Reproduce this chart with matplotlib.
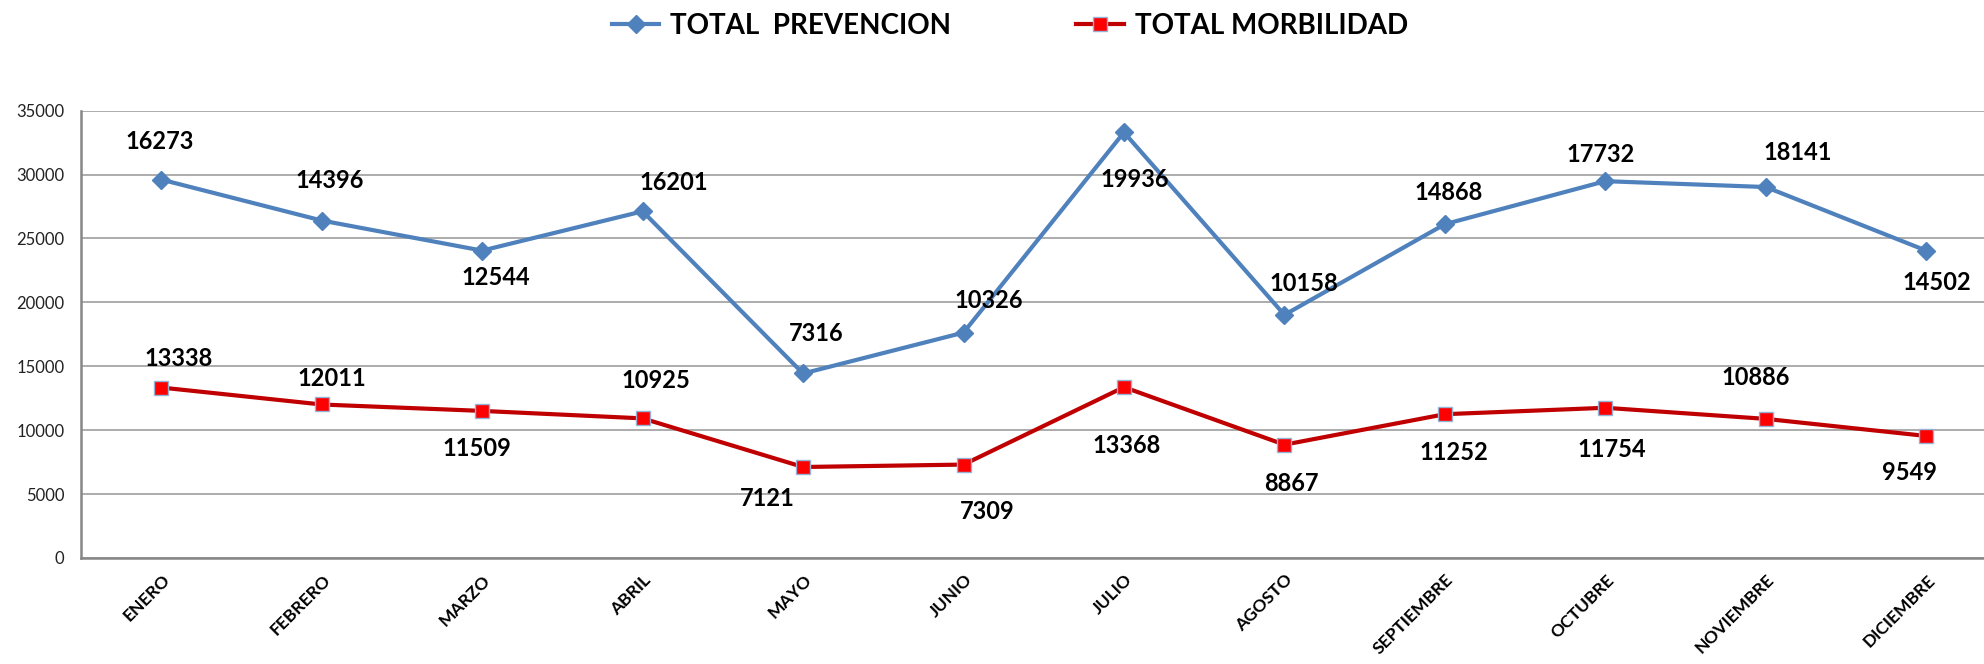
import matplotlib
matplotlib.use("Agg")
import matplotlib.pyplot as plt
import matplotlib.transforms as mtransforms

months = ["ENERO", "FEBRERO", "MARZO", "ABRIL", "MAYO", "JUNIO",
	"JULIO", "AGOSTO", "SEPTIEMBRE", "OCTUBRE", "NOVIEMBRE", "DICIEMBRE"]

prevencion = [16273, 14396, 12544, 16201, 7316, 10326,
	19936, 10158, 14868, 17732, 18141, 14502]

morbilidad = [13338, 12011, 11509, 10925, 7121, 7309,
	13368, 8867, 11252, 11754, 10886, 9549]

yticks = [0, 5000, 10000, 15000, 20000, 25000, 30000, 35000]

# label offsets in pixels (dx, dy), Excel placed them by hand
prev_offsets = [(-2, 38), (8, 40), (14, -27), (31, 29), (13, 40), (25, 32),
	(11, -47), (19, 31), (4, 32), (-5, 27), (32, 35), (11, -32)]
morb_offsets = [(17, 29), (10, 26), (-5, -38), (13, 38), (-36, -32), (24, -47),
	(3, -58), (7, -39), (9, -38), (6, -42), (-10, 41), (-17, -37)]

BLUE = "#4F81BD"
RED_LINE = "#C00000"
RED_MARK = "#FF0000"
MARK_EDGE = "#95B3D7"
GRID = "#A6A6A6"

plt.rcParams["font.family"] = ["Lato", "DejaVu Sans"]

fig = plt.figure(figsize=(19.84, 6.64), dpi=100)
ax = fig.add_axes([81 / 1984, 1 - 558 / 664, 1 - 81 / 1984, (558 - 110.7) / 664])

x = list(range(len(months)))
# stacked line: the prevention series is drawn on top of morbidity
stacked = [p + m for p, m in zip(prevencion, morbilidad)]

ax.plot(x, stacked, color=BLUE, lw=3, marker="D", ms=9, mfc=BLUE, mec=BLUE,
	label="TOTAL  PREVENCION", zorder=3)
ax.plot(x, morbilidad, color=RED_LINE, lw=3, marker="s", ms=10, mfc=RED_MARK,
	mec=MARK_EDGE, mew=1.0, label="TOTAL MORBILIDAD", zorder=3)

for i in x:
	dx, dy = prev_offsets[i]
	ax.annotate(str(prevencion[i]), (i, stacked[i]), xytext=(dx, dy),
		textcoords="offset pixels", ha="center", va="center",
		fontsize=17, fontweight="bold", color="black", zorder=4)

	dx, dy = morb_offsets[i]
	ax.annotate(str(morbilidad[i]), (i, morbilidad[i]), xytext=(dx, dy),
		textcoords="offset pixels", ha="center", va="center",
		fontsize=17, fontweight="bold", color="black", zorder=4)

ax.set_xlim(-0.5, 11.36)
ax.set_ylim(0, 35000)
ax.set_yticks(yticks)
ax.set_yticklabels([str(v) for v in yticks], fontsize=12, color="#222222")
ax.tick_params(axis="y", length=0, pad=12)

ax.set_xticks(x)
ax.set_xticklabels(months, rotation=45, ha="right", va="center",
	rotation_mode="anchor", fontsize=12.6, fontweight="bold")
ax.tick_params(axis="x", length=0, pad=14)
shift = mtransforms.ScaledTranslation(6 / 100, 0, fig.dpi_scale_trans)
for lbl in ax.get_xticklabels():
	lbl.set_transform(lbl.get_transform() + shift)

ax.grid(axis="y", color=GRID, lw=1.3)
ax.set_axisbelow(True)
for side in ["top", "right"]:
	ax.spines[side].set_visible(False)
for side in ["left", "bottom"]:
	ax.spines[side].set_color("#878787")
	ax.spines[side].set_linewidth(1.8)

leg = fig.legend(loc="center", bbox_to_anchor=(1010 / 1984, 1 - 26 / 664), ncol=2,
	frameon=False, handlelength=1.7, handletextpad=0.4, columnspacing=4.5,
	prop={"weight": "bold", "size": 20})

fig.savefig("out.png", dpi=100)
